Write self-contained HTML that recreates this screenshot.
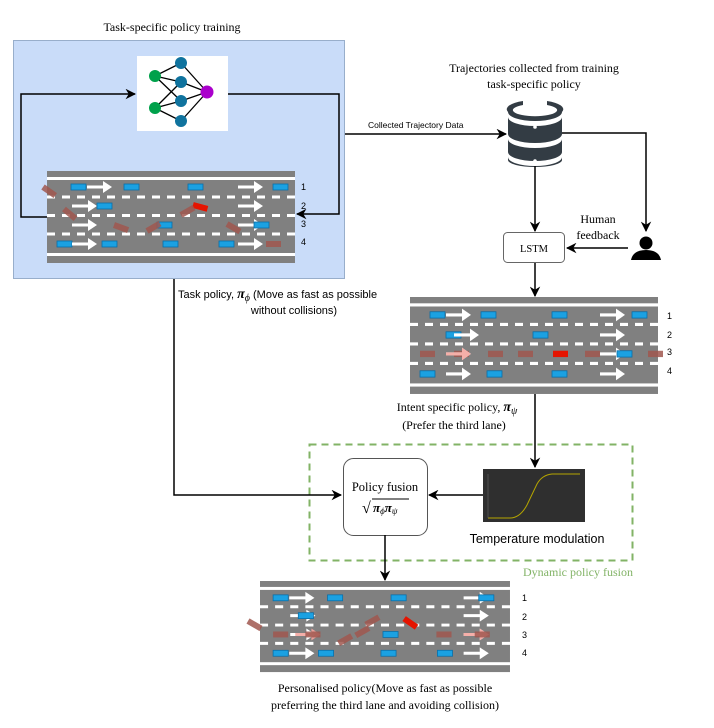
<!DOCTYPE html>
<html><head><meta charset="utf-8"><style>
html,body{margin:0;padding:0;background:#fff;}
svg{display:block;}
.serif{font-family:"Liberation Serif",serif;}
.sans{font-family:"Liberation Sans",sans-serif;}
</style></head><body>
<svg width="714" height="728" viewBox="0 0 714 728" xmlns="http://www.w3.org/2000/svg">
<defs>
<marker id="ah" viewBox="0 0 10 10" refX="9" refY="5" markerWidth="7" markerHeight="7" orient="auto-start-reverse"><path d="M0,0 L10,5 L0,10 L3,5 z" fill="#000"/></marker>
<path id="ar" d="M0,-1.5 h16 v-4.5 l9,6 l-9,6 v-4.5 h-16z" fill="#fff"/>
<path id="arp" d="M0,-1.5 h16 v-4.5 l9,6 l-9,6 v-4.5 h-16z" fill="#f4a6a0" opacity="0.9"/>
<rect id="car" x="0" y="-3" width="15" height="6" fill="#1ba1e2" stroke="#0b6fa8" stroke-width="0.8"/>
<rect id="bc" x="0" y="-3" width="15" height="6" fill="#a0574f" opacity="0.85"/>
<rect id="rc" x="0" y="-3" width="15" height="6" fill="#e51400"/>
<g id="road">
<rect x="0" y="0" width="248" height="92" fill="#808080"/>
<rect x="0" y="6" width="248" height="3" fill="#fff"/>
<rect x="0" y="82" width="248" height="3" fill="#fff"/>
<line x1="0" y1="26" x2="248" y2="26" stroke="#fff" stroke-width="3" stroke-dasharray="8,7"/>
<line x1="0" y1="44.5" x2="248" y2="44.5" stroke="#fff" stroke-width="3" stroke-dasharray="8,7"/>
<line x1="0" y1="63" x2="248" y2="63" stroke="#fff" stroke-width="3" stroke-dasharray="8,7"/>
</g>
</defs>

<text x="172" y="31" class="serif" font-size="12" text-anchor="middle">Task-specific policy training</text>
<rect x="13.5" y="40.5" width="331" height="238" fill="#c9dcf9" stroke="#98aecb" stroke-width="1"/>
<rect x="137" y="56" width="91" height="75" fill="#fff"/>
<g stroke="#000" stroke-width="1.3">
<line x1="155" y1="76" x2="181" y2="63"/><line x1="155" y1="76" x2="181" y2="82"/><line x1="155" y1="76" x2="181" y2="101"/>
<line x1="155" y1="108" x2="181" y2="82"/><line x1="155" y1="108" x2="181" y2="101"/><line x1="155" y1="108" x2="181" y2="121"/>
<line x1="181" y1="63" x2="207" y2="92"/><line x1="181" y1="82" x2="207" y2="92"/><line x1="181" y1="101" x2="207" y2="92"/><line x1="181" y1="121" x2="207" y2="92"/>
</g>
<circle cx="155" cy="76" r="6" fill="#00a14b"/><circle cx="155" cy="108" r="6" fill="#00a14b"/>
<circle cx="181" cy="63" r="6" fill="#10739e"/><circle cx="181" cy="82" r="6" fill="#10739e"/><circle cx="181" cy="101" r="6" fill="#10739e"/><circle cx="181" cy="121" r="6" fill="#10739e"/>
<circle cx="207" cy="92" r="6.5" fill="#aa00cc"/>
<polyline points="47,217 21,217 21,94 135,94" fill="none" stroke="#000" stroke-width="1.5" marker-end="url(#ah)"/>
<polyline points="228,94 339,94 339,214 297,214" fill="none" stroke="#000" stroke-width="1.5" marker-end="url(#ah)"/>

<g transform="translate(47,171)">
<use href="#road"/>
<g transform="translate(0,16)"><use href="#car" x="24"/><use href="#ar" x="40"/><use href="#car" x="77"/><use href="#car" x="141"/><use href="#ar" x="191"/><use href="#car" x="226"/></g>
<g transform="translate(0,35)"><use href="#ar" x="25"/><use href="#car" x="50"/><use href="#ar" x="191"/></g>
<g transform="translate(0,54)"><use href="#ar" x="25"/><use href="#car" x="110"/><use href="#ar" x="191"/><use href="#car" x="207"/></g>
<g transform="translate(0,73)"><use href="#car" x="10"/><use href="#ar" x="25"/><use href="#car" x="55"/><use href="#car" x="116"/><use href="#car" x="172"/><use href="#ar" x="191"/><use href="#bc" x="219"/></g>
<use href="#rc" transform="translate(146,34) rotate(15)"/>
<use href="#bc" transform="translate(-4,16) rotate(35)"/>
<use href="#bc" transform="translate(17,38) rotate(40)"/>
<use href="#bc" transform="translate(67,54) rotate(20)"/>
<use href="#bc" transform="translate(100,60) rotate(-30)"/>
<use href="#bc" transform="translate(134,44) rotate(-30)"/>
<use href="#bc" transform="translate(180,53) rotate(30)"/>
</g>
<g class="sans" font-size="9"><text x="301" y="190">1</text><text x="301" y="209">2</text><text x="301" y="227">3</text><text x="301" y="245">4</text></g>

<line x1="345" y1="134" x2="506" y2="134" stroke="#000" stroke-width="1.5" marker-end="url(#ah)"/>
<text x="368" y="128" class="sans" font-size="8.5">Collected Trajectory Data</text>

<text x="534" y="72" class="serif" font-size="12" text-anchor="middle">Trajectories collected from training</text>
<text x="534" y="88" class="serif" font-size="12" text-anchor="middle">task-specific policy</text>
<g fill="#333c44">
<path d="M523,101 A27,9 0 0,0 508,112 A27,9 0 0,0 562,112 A27,9 0 0,0 547,101 L547,105 A22,6 0 0,1 556,112 A22,6 0 0,1 514,112 A22,6 0 0,1 523,105z"/>
<path d="M508,117 A27,9 0 0,0 562,117 L562,134 A27,9 0 0,1 508,134z"/>
<path d="M508,139 A27,9 0 0,0 562,139 L562,152 A27,9 0 0,1 508,152z"/>
<path d="M508,157 A27,9 0 0,0 562,157 L562,160 A27,7 0 0,1 508,160z"/>
</g>
<g fill="#fff"><circle cx="535" cy="127" r="1.8"/><circle cx="535" cy="146" r="1.8"/><circle cx="535" cy="161" r="1.8"/></g>
<polyline points="562,133 646,133 646,231" fill="none" stroke="#000" stroke-width="1.5" marker-end="url(#ah)"/>
<line x1="535" y1="166" x2="535" y2="231" stroke="#000" stroke-width="1.5" marker-end="url(#ah)"/>
<circle cx="646" cy="243" r="6.5" fill="#000"/>
<path d="M631,260 Q633,250 646,250 Q659,250 661,260z" fill="#000"/>
<text x="598" y="223" class="serif" font-size="12" text-anchor="middle">Human</text>
<text x="598" y="239" class="serif" font-size="12" text-anchor="middle">feedback</text>
<line x1="628" y1="248" x2="567" y2="248" stroke="#000" stroke-width="1.5" marker-end="url(#ah)"/>
<rect x="503.5" y="232.5" width="61" height="30" rx="4" fill="#fff" stroke="#666"/>
<text x="534" y="252" class="serif" font-size="10.5" text-anchor="middle">LSTM</text>
<line x1="535" y1="263" x2="535" y2="296" stroke="#000" stroke-width="1.5" marker-end="url(#ah)"/>

<g transform="translate(410,297) scale(1,1.054)">
<use href="#road"/>
<g transform="translate(0,17)"><use href="#car" x="20"/><use href="#ar" x="36"/><use href="#car" x="71"/><use href="#car" x="142"/><use href="#ar" x="190"/><use href="#car" x="222"/></g>
<g transform="translate(0,36)"><use href="#car" x="36"/><use href="#ar" x="44"/><use href="#car" x="123"/><use href="#ar" x="190"/></g>
<g transform="translate(0,54)"><use href="#bc" x="10"/><use href="#bc" x="44"/><use href="#ar" x="36"/><use href="#arp" x="36"/><use href="#bc" x="78"/><use href="#bc" x="108"/><use href="#rc" x="143"/><use href="#bc" x="175"/><use href="#ar" x="190"/><use href="#car" x="207"/><use href="#bc" x="238"/></g>
<g transform="translate(0,73)"><use href="#car" x="10"/><use href="#ar" x="36"/><use href="#car" x="77"/><use href="#car" x="142"/><use href="#ar" x="190"/></g>
</g>
<g class="sans" font-size="9"><text x="667" y="319">1</text><text x="667" y="338">2</text><text x="667" y="355">3</text><text x="667" y="374">4</text></g>

<text x="178" y="298" class="sans" font-size="11">Task policy, <tspan class="serif" font-style="italic" font-weight="bold" font-size="14">π</tspan><tspan class="serif" font-size="10" dy="3" font-style="italic">ϕ</tspan><tspan dy="-3"> (Move as fast as possible</tspan></text>
<text x="294" y="314" class="sans" font-size="11" text-anchor="middle">without collisions)</text>
<text x="457" y="411" class="serif" font-size="12" text-anchor="middle">Intent specific policy, <tspan font-style="italic" font-weight="bold" font-size="14">π</tspan><tspan font-size="10" dy="3" font-style="italic">ψ</tspan></text>
<text x="454" y="429" class="serif" font-size="12" text-anchor="middle">(Prefer the third lane)</text>

<line x1="535" y1="394" x2="535" y2="467" stroke="#000" stroke-width="1.5" marker-end="url(#ah)"/>
<rect x="309.5" y="444.5" width="323" height="116" fill="none" stroke="#82b366" stroke-width="2" stroke-dasharray="7,5"/>
<text x="633" y="576" class="serif" font-size="12" fill="#82b366" text-anchor="end">Dynamic policy fusion</text>
<polyline points="174,279 174,495 341,495" fill="none" stroke="#000" stroke-width="1.5" marker-end="url(#ah)"/>
<rect x="343.5" y="458.5" width="84" height="77" rx="10" fill="#fff" stroke="#555"/>
<text x="385" y="491" class="serif" font-size="12.5" text-anchor="middle">Policy fusion</text>
<text x="362" y="513" class="serif" font-size="16">√</text>
<line x1="372" y1="499" x2="409" y2="499" stroke="#000" stroke-width="0.9"/>
<text x="373" y="512" class="serif" font-size="13" font-style="italic" font-weight="bold">π<tspan font-size="9" font-weight="normal" dy="2">ϕ</tspan><tspan dy="-2">π</tspan><tspan font-size="9" font-weight="normal" dy="2">ψ</tspan></text>
<rect x="483" y="469" width="102" height="53" fill="#2f2f2f"/>
<path d="M488,518 L510,518 Q520,518 527,505 L537,484 Q542,475 552,474 L580,474" fill="none" stroke="#b5a500" stroke-width="1"/>
<line x1="488" y1="474" x2="488" y2="518" stroke="#666" stroke-width="0.6"/>
<line x1="483" y1="495" x2="429" y2="495" stroke="#000" stroke-width="1.5" marker-end="url(#ah)"/>
<text x="537" y="543" class="sans" font-size="12.5" text-anchor="middle">Temperature modulation</text>
<line x1="385" y1="535" x2="385" y2="580" stroke="#000" stroke-width="1.5" marker-end="url(#ah)"/>

<g transform="translate(260,581) scale(1.008,0.99)">
<use href="#road"/>
<g transform="translate(0,17)"><use href="#car" x="13"/><use href="#ar" x="29"/><use href="#car" x="67"/><use href="#car" x="130"/><use href="#ar" x="202"/><use href="#car" x="217"/></g>
<g transform="translate(0,35)"><use href="#ar" x="30"/><use href="#car" x="38"/><use href="#ar" x="202"/></g>
<g transform="translate(0,54)"><use href="#bc" x="13"/><use href="#ar" x="30"/><use href="#arp" x="35"/><use href="#bc" x="45"/><use href="#car" x="122"/><use href="#bc" x="175"/><use href="#ar" x="202"/><use href="#arp" x="202"/><use href="#bc" x="213"/></g>
<g transform="translate(0,73)"><use href="#car" x="13"/><use href="#ar" x="29"/><use href="#car" x="58"/><use href="#car" x="120"/><use href="#car" x="176"/><use href="#ar" x="202"/></g>
<use href="#rc" transform="translate(143,38) rotate(35)"/>
<use href="#bc" transform="translate(78,63) rotate(-30)"/>
<use href="#bc" transform="translate(95,55) rotate(-30)"/>
<use href="#bc" transform="translate(105,44) rotate(-30)"/>
</g>
<use href="#bc" transform="translate(248,621) rotate(30)"/>
<g class="sans" font-size="9"><text x="522" y="601">1</text><text x="522" y="620">2</text><text x="522" y="638">3</text><text x="522" y="656">4</text></g>
<text x="385" y="692" class="serif" font-size="12" text-anchor="middle">Personalised policy(Move as fast as possible</text>
<text x="385" y="709" class="serif" font-size="12" text-anchor="middle">preferring the third lane and avoiding collision)</text>
</svg>
</body></html>
